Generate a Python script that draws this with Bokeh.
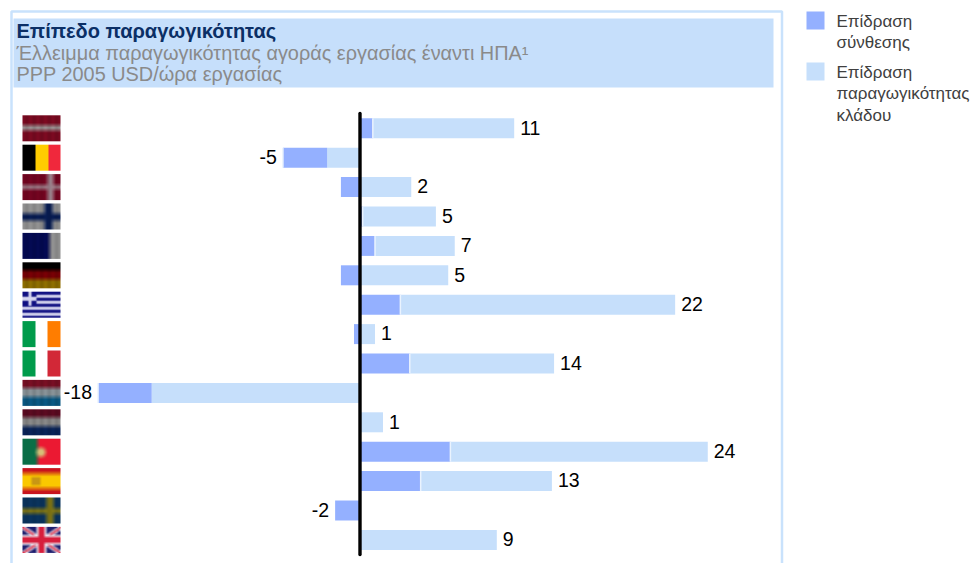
import numpy as np
from bokeh.plotting import figure
from bokeh.models import Range1d
from bokeh.core.properties import value
from bokeh.embed import file_html
from bokeh.resources import INLINE

# ---------- data ----------
countries = ["AT", "BE", "DK", "FI", "FR", "DE", "GR", "IE", "IT", "LU", "NL", "PT", "ES", "SE", "UK"]
composition = [0.85, -3.05, -1.35, 0.15, 1.0, -1.35, 2.75, -0.45, 3.4, -3.7, 0.0, 6.2, 4.15, -1.75, 0.0]
productivity = [9.75, -2.3, 3.5, 5.05, 5.5, 6.05, 18.95, 1.0, 9.95, -14.4, 1.55, 17.75, 9.05, 0.0, 9.4]
labels = [11, -5, 2, 5, 7, 5, 22, 1, 14, -18, 1, 24, 13, -2, 9]

title = "Επίπεδο παραγωγικότητας"
subtitle = ["Έλλειμμα παραγωγικότητας αγοράς εργασίας έναντι ΗΠΑ¹", "PPP 2005 USD/ώρα εργασίας"]
legend_entries = [("#94B0FF", ["Επίδραση", "σύνθεσης"]),
                  ("#C6DFFB", ["Επίδραση", "παραγωγικότητας", "κλάδου"])]

# ---------- layout helpers: page pixel -> data ----------
W, H = 973, 563
X0, PX_PER_UNIT = 360.0, 14.5
Y0, PX_PER_ROW = 127.8, 29.4
def fx(px): return (px - X0) / PX_PER_UNIT
def fy(py): return (py - Y0) / PX_PER_ROW

p = figure(width=W, height=H, output_backend="svg", toolbar_location=None,
           x_range=Range1d(fx(0), fx(W)), y_range=Range1d(fy(H), fy(0)),
           min_border=0, outline_line_color=None)
p.axis.visible = False
p.grid.visible = False
p.background_fill_color = "white"

FRAME = "#C9E2FC"
# frame + header band
p.multi_line([[fx(11), fx(11), fx(781.5), fx(781.5)]], [[fy(566), fy(11), fy(11), fy(566)]],
             line_color=FRAME, line_width=2.5)
p.quad(left=[fx(13)], right=[fx(773)], top=[fy(18)], bottom=[fy(87)], fill_color="#C6DFFB", line_color=None)

FONT = value("Liberation Sans")
p.text([fx(16)], [fy(30)], text=[title], text_font=FONT, text_font_size="20px", text_font_style="bold",
       text_color="#0B2F66", text_baseline="middle")
for line, py in zip(subtitle, [52, 73.5]):
    p.text([fx(16)], [fy(py)], text=[line], text_font=FONT, text_font_size="19.9px",
           text_color="#8A8A8A", text_baseline="middle")

# ---------- stacks ----------
n = len(countries)
rows = np.arange(n)
comp = np.array(composition)
prod = np.array(productivity)
# positive side: composition sits next to the axis; negative side: productivity does
c_left = np.where(comp >= 0, 0, np.where(prod < 0, prod, 0))
c_right = c_left + comp
p_left = np.where(prod >= 0, np.where(comp > 0, comp, 0), 0)
p_right = p_left + prod
BAR_H = 20 / PX_PER_ROW
p.hbar(y=rows, left=p_left, right=p_right, height=BAR_H, fill_color="#C6DFFB", line_color=None)
p.hbar(y=rows, left=c_left, right=c_right, height=BAR_H, fill_color="#94B0FF", line_color=None)
# thin white seam between the two stacked parts
seam = np.where((comp * prod) > 0, c_right, np.nan)
mask = ~np.isnan(seam)
p.segment(x0=seam[mask], x1=seam[mask], y0=rows[mask] - BAR_H / 2, y1=rows[mask] + BAR_H / 2,
          line_color="#EAF3FE", line_width=1.5)

# axis line
p.segment([fx(359.5)], [fy(113)], [fx(359.5)], [fy(554)], line_color="black", line_width=3.4, line_cap="round")

# value labels
hi = np.maximum.reduce([c_left, c_right, p_left, p_right])
lo = np.minimum.reduce([c_left, c_right, p_left, p_right])
lab = np.array(labels)
xs = np.where(lab >= 0, hi + 6 / PX_PER_UNIT, lo - 6 / PX_PER_UNIT)
lab_y = rows - 0.8 / PX_PER_ROW
p.text(xs[lab >= 0], lab_y[lab >= 0], text=[str(v) for v in lab[lab >= 0]], text_font=FONT, text_font_size="19.5px",
       text_color="black", text_align="left", text_baseline="middle")
p.text(xs[lab < 0], lab_y[lab < 0], text=[str(v) for v in lab[lab < 0]], text_font=FONT, text_font_size="19.5px",
       text_color="black", text_align="right", text_baseline="middle")

# ---------- legend ----------
for (col, lines), top in zip(legend_entries, [11, 62]):
    p.quad(left=[fx(806)], right=[fx(824)], top=[fy(top)], bottom=[fy(top + 18)], fill_color=col, line_color=None)
    for i, line in enumerate(lines):
        p.text([fx(836)], [fy(top + 9.5 + i * 21.6)], text=[line], text_font=FONT, text_font_size="17px",
               text_color="#404040", text_baseline="middle")

# ---------- flags (38 x 26 thumbnails, slightly blurred) ----------
FW, FH = 38, 26
def blank(c):
    a = np.zeros((FH, FW, 3), float); a[:] = c; return a
def hb(cs):
    a = blank(cs[0]); k = len(cs)
    for i, c in enumerate(cs):
        a[int(i * FH / k):int((i + 1) * FH / k)] = c
    return a
def vb(cs, stops=None):
    a = blank(cs[0]); k = len(cs)
    stops = stops or [FW * i / k for i in range(k + 1)]
    for i, c in enumerate(cs):
        a[:, int(stops[i]):int(stops[i + 1])] = c
    return a
def blur(a, r=1):
    out = a.copy()
    for ax in (0, 1):
        s = sum(np.roll(out, d, axis=ax) for d in range(-r, r + 1)) / (2 * r + 1)
        idx = [slice(None)] * 3
        for j in list(range(r)) + list(range(-r, 0)):
            idx[ax] = j
            s[tuple(idx)] = out[tuple(idx)]
        out = s
    return out
def weave(a, amp=0.06):
    m = 1 + amp * np.cos(np.arange(FW) * 2 * np.pi / 7.5)
    return a * m[None, :, None]
def cross(bg, c, hr, vc):
    a = blank(bg); a[hr[0]:hr[1]] = c; a[:, vc[0]:vc[1]] = c; return a
def greece():
    navy, wh = (15, 15, 130), (215, 215, 240)
    a = blank(navy)
    for r in range(FH):
        if int(r / (FH / 9)) % 2: a[r] = wh
    a[:14, :14] = navy
    a[5:9, :14] = wh
    a[:14, 6:9] = wh
    return blur(a, 1) * 0.5 + a * 0.5
def portugal():
    a = vb([(10, 110, 70), (235, 25, 50)], [0, 15, FW])
    yy, xx = np.mgrid[:FH, :FW]
    a[(xx - 18) ** 2 + (yy - 13) ** 2 < 25] = (215, 190, 120)
    return blur(a, 2)
def spain():
    a = blank((200, 20, 30))
    a[4:7] = (225, 110, 15); a[7:19] = (250, 200, 0); a[19:22] = (225, 110, 15)
    a[9:17, 9:18] = (200, 150, 20)
    return blur(a, 1)
def uk():
    navy, wh, red = (30, 30, 110), (235, 225, 235), (215, 30, 60)
    a = blank(navy)
    yy, xx = np.mgrid[:FH, :FW]
    d1 = np.abs(yy / FH - xx / FW); d2 = np.abs(yy / FH - (1 - xx / FW))
    a[(d1 < 0.10) | (d2 < 0.10)] = wh
    a[(d1 < 0.04) | (d2 < 0.04)] = red
    a[np.abs(yy - 12.5) < 5] = wh; a[:, np.abs(np.arange(FW) - 18.5) < 5] = wh
    a[np.abs(yy - 12.5) < 2.6] = red; a[:, np.abs(np.arange(FW) - 18.5) < 2.6] = red
    return blur(a, 1)

flags = {
    "AT": weave(blur(hb([(118, 10, 32), (118, 10, 32), (150, 145, 145), (118, 10, 32), (118, 10, 32)]), 2)),
    "BE": blur(vb([(0, 0, 0), (255, 204, 0), (240, 40, 60)], [0, 13, 26, 38]), 0),
    "DK": weave(blur(cross((112, 5, 32), (155, 130, 140), (11, 15), (25, 31)), 2), 0.04),
    "FI": weave(blur(cross((140, 140, 140), (8, 28, 80), (10, 17), (22, 30)), 2), 0.05),
    "FR": weave(blur(vb([(4, 10, 80), (140, 140, 140)], [0, 27, 38]), 2), 0.05),
    "DE": weave(blur(hb([(0, 0, 0), (115, 0, 5), (135, 105, 0)]), 2)),
    "GR": greece(),
    "IE": blur(vb([(0, 155, 75), (255, 255, 255), (255, 125, 0)], [0, 13, 25, 38]), 0),
    "IT": blur(vb([(0, 155, 75), (255, 255, 255), (210, 40, 55)], [0, 13, 25, 38]), 0),
    "LU": weave(blur(hb([(115, 15, 35), (130, 140, 145), (10, 85, 125)]), 2)),
    "NL": weave(blur(hb([(88, 10, 32), (130, 130, 130), (10, 35, 85)]), 2)),
    "PT": portugal(),
    "ES": spain(),
    "SE": weave(blur(cross((10, 50, 90), (125, 115, 20), (11, 16), (24, 31)), 2), 0.04),
    "UK": uk(),
}
def to_rgba(a):
    a = np.clip(a, 0, 255).astype(np.uint32)
    return (255 << 24) | (a[..., 2] << 16) | (a[..., 1] << 8) | a[..., 0]

for i, code in enumerate(countries):
    img = to_rgba(flags[code]).astype(np.uint32)
    p.image_rgba(image=[img], x=[fx(22)], y=[i - 13 / PX_PER_ROW],
                 dw=[38 / PX_PER_UNIT], dh=[26 / PX_PER_ROW])

open("out.html", "w").write(file_html(p, INLINE))
